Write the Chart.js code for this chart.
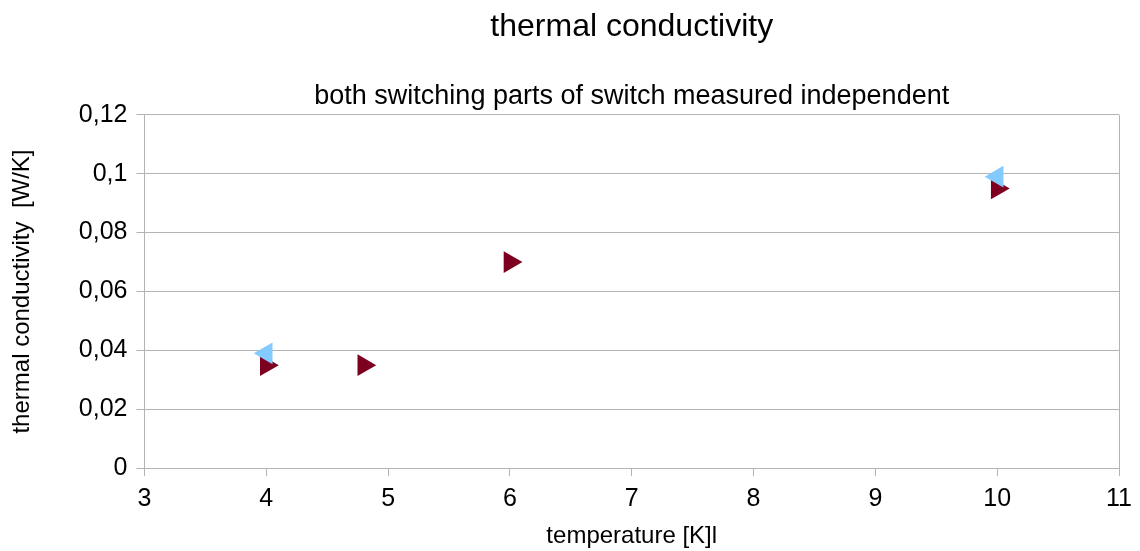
<!DOCTYPE html>
<html>
<head>
<meta charset="utf-8">
<script src="https://cdn.jsdelivr.net/npm/chart.js@4"></script>
<style>
  html, body { margin: 0; padding: 0; background: #fff; }
  #wrap { width: 1140px; height: 551px; }
</style>
</head>
<body>
<div id="wrap"><canvas id="myChart"></canvas></div>
<script>
const redX = [4, 4.8, 6, 10];
const redY = [0.035, 0.035, 0.07, 0.095];
const blueX = [4, 10];
const blueY = [0.039, 0.099];

const titleText = "thermal conductivity";
const subtitleText = "both switching parts of switch measured independent";
const xTitle = "temperature [K]l";
const yTitle = "thermal conductivity  [W/K]";

const gridGray = "#b3b3b3";
const font = "'Liberation Sans', Arial, sans-serif";

const toPoints = (xs, ys) => xs.map((x, i) => ({ x: x, y: ys[i] }));

const ctx = document.getElementById("myChart").getContext("2d");
const mychart = new Chart(ctx, {
  type: "scatter",
  data: {
    datasets: [
      {
        label: "blue",
        data: toPoints(blueX, blueY),
        pointStyle: "triangle",
        rotation: -90,
        radius: 12.5,
        backgroundColor: "#83caff",
        borderColor: "#83caff",
        borderWidth: 0,
        order: 0,
      },
      {
        label: "red",
        data: toPoints(redX, redY),
        pointStyle: "triangle",
        rotation: 90,
        radius: 12.5,
        backgroundColor: "#7e0021",
        borderColor: "#7e0021",
        borderWidth: 0,
        order: 1,
      },
    ],
  },
  options: {
    responsive: true,
    maintainAspectRatio: false,
    animation: false,
    layout: { padding: { left: 8, right: 10, top: 0, bottom: 0 } },
    plugins: {
      legend: { display: false },
      tooltip: { enabled: false },
      title: {
        display: true,
        text: titleText,
        fullSize: false,
        color: "#000",
        font: { family: font, size: 32, weight: "normal" },
        padding: { top: 8, bottom: 34 },
      },
      subtitle: {
        display: true,
        text: subtitleText,
        fullSize: false,
        color: "#000",
        font: { family: font, size: 27, weight: "normal" },
        padding: { top: 0, bottom: 2 },
      },
    },
    scales: {
      x: {
        type: "linear",
        min: 3,
        max: 11,
        ticks: {
          stepSize: 1,
          color: "#000",
          font: { family: font, size: 25 },
          padding: 8,
        },
        grid: {
          drawOnChartArea: true,
          color: (c) => (c.tick && c.tick.value === 11 ? gridGray : "rgba(0,0,0,0)"),
          tickColor: gridGray,
          tickLength: 8,
        },
        border: { color: gridGray },
        title: {
          display: true,
          text: xTitle,
          color: "#000",
          font: { family: font, size: 24 },
          padding: { top: 0, bottom: 0 },
        },
      },
      y: {
        min: 0,
        max: 0.12,
        ticks: {
          stepSize: 0.02,
          color: "#000",
          font: { family: font, size: 25 },
          padding: 9,
          callback: (v) => Number(v.toFixed(2)).toString().replace(".", ","),
        },
        grid: {
          color: gridGray,
          tickColor: gridGray,
          tickLength: 8,
        },
        border: { color: gridGray },
        title: {
          display: true,
          text: yTitle,
          color: "#000",
          font: { family: font, size: 24 },
          padding: { top: 0, bottom: 33 },
        },
      },
    },
  },
});
</script>
</body>
</html>
